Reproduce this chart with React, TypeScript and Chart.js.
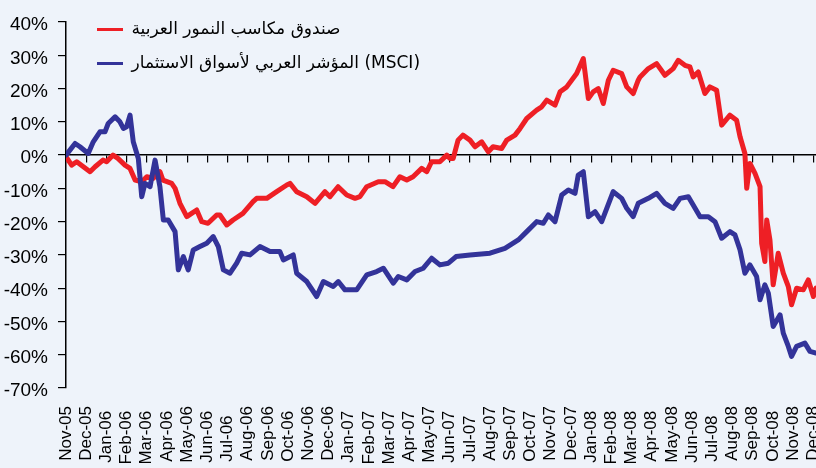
import React, { useEffect, useRef } from 'react';
import { Chart, registerables } from 'chart.js';

Chart.register(...registerables);

const monthLabels = [
  'Nov-05', 'Dec-05',
  'Jan-06', 'Feb-06', 'Mar-06', 'Apr-06', 'May-06', 'Jun-06', 'Jul-06', 'Aug-06', 'Sep-06', 'Oct-06', 'Nov-06', 'Dec-06',
  'Jan-07', 'Feb-07', 'Mar-07', 'Apr-07', 'May-07', 'Jun-07', 'Jul-07', 'Aug-07', 'Sep-07', 'Oct-07', 'Nov-07', 'Dec-07',
  'Jan-08', 'Feb-08', 'Mar-08', 'Apr-08', 'May-08', 'Jun-08', 'Jul-08', 'Aug-08', 'Sep-08', 'Oct-08', 'Nov-08', 'Dec-08',
];

const redLabel = 'صندوق مكاسب النمور العربية';
const blueLabel = 'المؤشر العربي لأسواق الاستثمار (MSCI)';

// position in months since Nov-05
const redMonths = [
  0, 0.28, 0.53, 1.19, 1.44, 1.83, 2.01, 2.33, 2.57, 2.92, 3.17, 3.42, 3.75, 4.0, 4.31, 4.65, 4.8, 5.23, 5.4, 5.64,
  5.98, 6.22, 6.47, 6.72, 7.03, 7.46, 7.62, 7.96, 8.27, 8.76, 9.26, 9.44, 9.94, 10.43, 10.93, 11.09, 11.42, 11.92, 12.33, 12.82,
  13.07, 13.47, 13.9, 14.31, 14.55, 14.89, 15.46, 15.79, 16.19, 16.53, 16.87, 17.18, 17.61, 17.86, 18.1, 18.51, 18.85, 19.01, 19.17, 19.41,
  19.65, 20.0, 20.25, 20.58, 20.91, 21.14, 21.57, 21.82, 22.23, 22.48, 22.81, 23.3, 23.55, 23.8, 24.21, 24.46, 24.79, 25.28, 25.61, 25.86,
  26.1, 26.35, 26.6, 26.85, 27.09, 27.51, 27.76, 28.08, 28.33, 28.42, 28.83, 29.24, 29.65, 30.06, 30.31, 30.64, 30.89, 31.05, 31.3, 31.63,
  31.88, 32.21, 32.46, 32.87, 33.2, 33.37, 33.61, 33.7, 33.86, 34.11, 34.36, 34.44, 34.6, 34.69, 34.85, 35.01, 35.26, 35.51, 35.76, 35.92,
  36.17, 36.5, 36.75, 37.0, 37.13,
];
const redValues = [
  -0.5, -3, -2, -5, -3.5, -1.5, -2, 0, -1, -3, -4, -7.5, -8, -6.5, -7, -5, -7.5, -8.5, -10, -14.5,
  -18.5, -17.5, -16.5, -20, -20.5, -18, -18, -21, -19.5, -17.5, -14, -13, -13, -11, -9, -8.5, -11, -12.5, -14.5, -11,
  -12.5, -9.5, -12, -13, -12.5, -9.5, -8, -8, -9.5, -6.5, -7.5, -6.5, -4, -5, -2, -2, 0, -1, -1, 4.5,
  6, 4.5, 2.5, 4, 1, 2.5, 2, 4.5, 6, 8, 11, 13.5, 14.5, 16.5, 15, 19, 20.5, 24.5, 29, 17,
  19, 20, 15.5, 22.5, 25.5, 24.5, 20.5, 18.5, 22.5, 23.5, 26, 27.5, 24, 26, 28.5, 27, 26.5, 23.5, 25, 18.5,
  20.5, 19.5, 9, 12, 10.5, 5.5, 0.5, -10, -2.5, -5.5, -9.5, -26.5, -32, -19.5, -25.5, -39, -29.5, -35.5, -39.5, -45,
  -40, -40.5, -37.5, -42.5, -40,
];

const blueMonths = [
  0, 0.45, 0.69, 1.1, 1.35, 1.68, 1.93, 2.09, 2.43, 2.67, 2.84, 3.0, 3.17, 3.33, 3.58, 3.75, 3.91, 4.16, 4.41, 4.65,
  4.82, 5.06, 5.4, 5.56, 5.81, 6.05, 6.3, 6.63, 6.97, 7.29, 7.54, 7.79, 8.12, 8.45, 8.7, 9.11, 9.6, 10.1, 10.59, 10.76,
  11.25, 11.42, 11.92, 12.41, 12.74, 13.23, 13.48, 13.81, 14.39, 14.89, 15.38, 15.71, 16.2, 16.45, 16.87, 17.28, 17.69, 18.1, 18.51, 18.93,
  19.31, 20.0, 20.99, 21.73, 22.39, 22.81, 23.3, 23.63, 23.88, 24.21, 24.54, 24.87, 25.2, 25.36, 25.61, 25.86, 26.19, 26.52, 27.09, 27.51,
  27.76, 28.08, 28.33, 28.83, 29.24, 29.65, 30.06, 30.4, 30.81, 31.05, 31.39, 31.8, 32.13, 32.46, 32.87, 33.12, 33.37, 33.61, 33.86, 34.19,
  34.36, 34.6, 34.77, 35.01, 35.35, 35.51, 35.76, 35.92, 36.17, 36.58, 36.83, 37.13,
];
const blueValues = [
  0, 3.5, 2.5, 0.5, 4, 7, 7, 9.5, 11.5, 10, 8, 8.5, 12, 4, -1, -12.5, -8.5, -9.5, -1.5, -9.5,
  -19.5, -19.5, -23, -34.5, -30.5, -34.5, -28.5, -27.5, -26.5, -24.5, -27.5, -34.5, -35.5, -32.5, -29.5, -30, -27.5, -29, -29, -31.5,
  -30, -35.5, -38, -42.5, -38, -39.5, -38, -40.5, -40.5, -36, -35, -34, -38.5, -36.5, -37.5, -35, -34, -31, -33, -32.5,
  -30.5, -30, -29.5, -28, -25.5, -23, -20, -20.5, -18, -20, -12, -10.5, -11.5, -6, -5, -18.5, -17, -20, -11, -13,
  -16, -18.5, -14.5, -13, -11.5, -14.5, -16, -13, -12.5, -15, -18.5, -18.5, -20, -25, -23, -24, -28.5, -35.5, -33, -36.5,
  -43.5, -39, -41.5, -51.5, -48, -53.5, -57.5, -60.5, -57.5, -56.5, -59, -59.5,
];

const X_MAX = 37.13;
const AXIS_FONT = "'Liberation Sans', Arial, sans-serif";
const X_FONT_SIZE = 17;
const LEGEND_FONT = "'DejaVu Sans', sans-serif";
const RED = '#EE1F25';
const BLUE = '#333399';

// pad month labels with trailing spaces so every label starts at the same
// (bottom) position once rotated, like the original chart
let padCache: string[] | null = null;
function paddedLabels(): string[] {
  if (padCache) return padCache;
  const ctx = document.createElement('canvas').getContext('2d');
  if (!ctx) return monthLabels;
  ctx.font = `${X_FONT_SIZE}px ${AXIS_FONT}`;
  const widths = monthLabels.map((l) => ctx.measureText(l).width);
  const maxW = Math.max(...widths);
  const sp = ctx.measureText(' ').width || 4.7;
  padCache = monthLabels.map((l, i) => l + ' '.repeat(Math.max(0, Math.round((maxW - widths[i]) / sp))));
  return padCache;
}

const legendPlacer = {
  id: 'legendPlacer',
  afterLayout(chart: any) {
    const lg = chart.legend;
    if (!lg) return;
    const w = lg.width;
    lg.left = chart.chartArea.left + 14;
    lg.right = lg.left + w;
    lg.top = 4;
  },
};

export default function App() {
  const ref = useRef<HTMLCanvasElement | null>(null);

  useEffect(() => {
    if (!ref.current) return;
    const labels = paddedLabels();
    const chart = new Chart(ref.current, {
      type: 'line',
      data: {
        datasets: [
          {
            label: redLabel,
            data: redMonths.map((m, i) => ({ x: m, y: redValues[i] })),
            borderColor: RED,
            backgroundColor: RED,
            borderWidth: 5,
            pointRadius: 0,
            borderJoinStyle: 'round',
            borderCapStyle: 'round',
            order: 1,
          },
          {
            label: blueLabel,
            data: blueMonths.map((m, i) => ({ x: m, y: blueValues[i] })),
            borderColor: BLUE,
            backgroundColor: BLUE,
            borderWidth: 5,
            pointRadius: 0,
            borderJoinStyle: 'round',
            borderCapStyle: 'round',
            order: 0,
          },
        ],
      },
      options: {
        responsive: false,
        animation: false,
        devicePixelRatio: 1,
        layout: { padding: { top: 22, left: 0, right: 0, bottom: 0 } },
        scales: {
          x: {
            type: 'linear',
            position: 'bottom',
            min: 0,
            max: X_MAX,
            ticks: {
              stepSize: 1,
              autoSkip: false,
              includeBounds: false,
              minRotation: 90,
              maxRotation: 90,
              padding: 18,
              color: '#000',
              font: { family: AXIS_FONT, size: X_FONT_SIZE },
              callback: (v: any) => labels[Math.round(Number(v))] ?? '',
            },
            grid: { display: false, drawTicks: false },
            border: { display: false },
            afterFit: (s: any) => {
              s.paddingLeft = 0;
              s.paddingRight = 0;
              s.height = 80;
            },
          },
          x2: {
            type: 'linear',
            position: { y: 0 },
            min: 0,
            max: X_MAX,
            ticks: { display: false, stepSize: 1, includeBounds: false },
            grid: { drawOnChartArea: false, drawTicks: true, tickLength: 7, color: '#000', lineWidth: 1.2 },
            border: { display: true, color: '#000', width: 1.5 },
            afterFit: (s: any) => {
              s.paddingLeft = 0;
              s.paddingRight = 0;
            },
          },
          y: {
            min: -70,
            max: 40,
            ticks: {
              stepSize: 10,
              padding: 10,
              labelOffset: 3,
              color: '#000',
              font: { family: AXIS_FONT, size: 19 },
              callback: (v: any) => `${v}%`,
            },
            grid: { drawOnChartArea: false, drawTicks: true, tickLength: 8, color: '#000', lineWidth: 1.2 },
            border: { display: true, color: '#000', width: 1.5 },
            afterFit: (s: any) => {
              s.width = 66;
            },
          },
        },
        plugins: {
          tooltip: { enabled: false },
          legend: {
            position: 'chartArea',
            align: 'start',
            labels: {
              boxWidth: 26,
              boxHeight: 3,
              padding: 17,
              color: '#000',
              font: { family: LEGEND_FONT, size: 17 },
              generateLabels: (c: any) =>
                c.data.datasets.map((ds: any, i: number) => ({
                  text: ds.label,
                  fillStyle: ds.borderColor,
                  strokeStyle: ds.borderColor,
                  lineWidth: 0,
                  hidden: false,
                  datasetIndex: i,
                  fontColor: '#000',
                })),
            },
          },
        },
      } as any,
      plugins: [legendPlacer],
    });
    return () => chart.destroy();
  }, []);

  return (
    <div
      style={{
        position: 'fixed',
        left: 0,
        top: 0,
        width: 816,
        height: 468,
        background: '#EEF3FA',
        overflow: 'hidden',
      }}
    >
      <canvas ref={ref} width={816} height={468} style={{ display: 'block' }} />
    </div>
  );
}
